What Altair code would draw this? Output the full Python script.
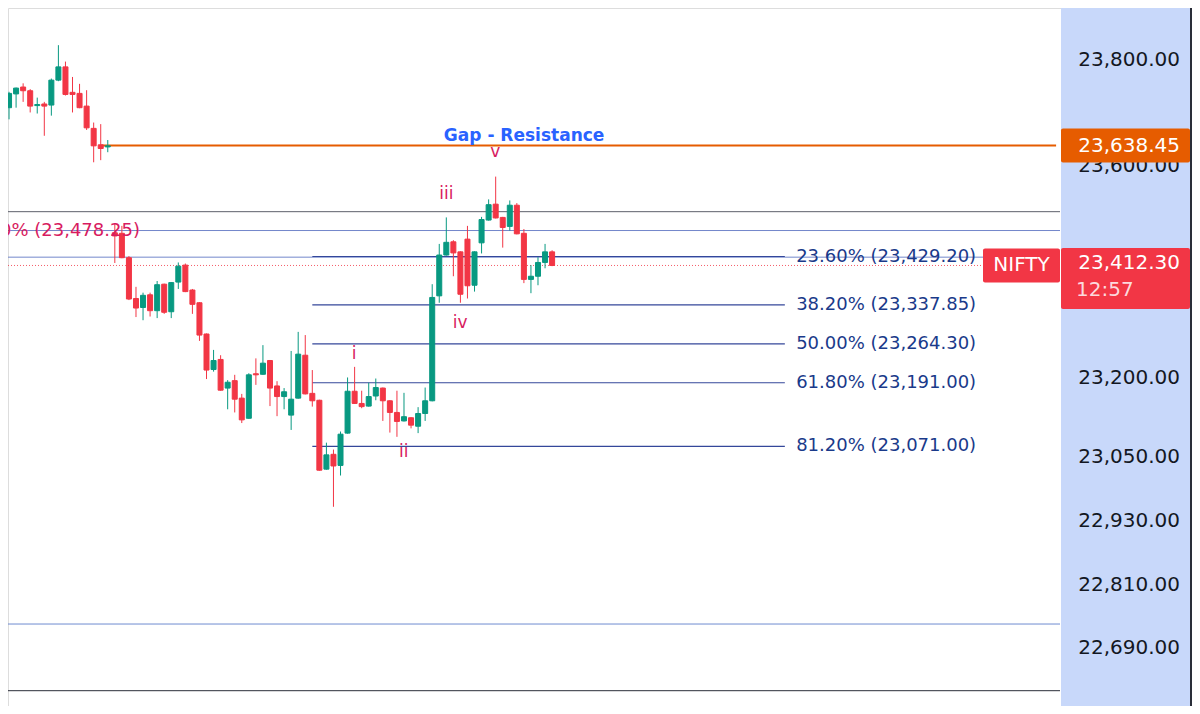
import altair as alt
import pandas as pd

# ---------------- data ----------------
opens = [23710, 23736, 23749, 23742, 23714, 23717, 23715, 23762, 23787, 23739,
         23737, 23713, 23671, 23640, 23636, 23474, 23473, 23427, 23350, 23333,
         23357, 23327, 23377, 23325, 23381, 23413, 23366, 23342, 23283, 23216,
         23235, 23181, 23195, 23162, 23124, 23208, 23207, 23233, 23185, 23165,
         23130, 23162, 23243, 23171, 23158, 23028, 23056, 23035, 23096, 23175,
         23152, 23147, 23166, 23181, 23157, 23135, 23119, 23125, 23109, 23133,
         23157, 23355, 23432, 23457, 23438, 23462, 23375, 23455, 23498, 23528,
         23503, 23486, 23526, 23473, 23386, 23392, 23418, 23438]
highs = [23740, 23748, 23756, 23745, 23729, 23721, 23765, 23828, 23797, 23768,
         23755, 23743, 23682, 23679, 23649, 23492, 23487, 23430, 23372, 23361,
         23361, 23383, 23378, 23381, 23418, 23416, 23368, 23343, 23284, 23253,
         23243, 23196, 23206, 23170, 23209, 23237, 23262, 23234, 23194, 23181,
         23251, 23287, 23281, 23215, 23159, 23078, 23065, 23099, 23201, 23221,
         23176, 23191, 23199, 23182, 23158, 23176, 23172, 23126, 23145, 23182,
         23377, 23453, 23503, 23460, 23439, 23487, 23439, 23504, 23537, 23580,
         23504, 23535, 23530, 23481, 23413, 23428, 23453, 23441]
lows = [23688, 23710, 23721, 23701, 23699, 23657, 23695, 23760, 23733, 23701,
        23709, 23668, 23607, 23611, 23626, 23417, 23426, 23347, 23315, 23309,
        23316, 23313, 23321, 23313, 23368, 23362, 23321, 23270, 23198, 23212,
        23176, 23141, 23135, 23115, 23123, 23187, 23206, 23147, 23128, 23141,
        23102, 23161, 23169, 23146, 23025, 23027, 22957, 23016, 23095, 23151,
        23143, 23146, 23158, 23119, 23097, 23089, 23118, 23105, 23096, 23119,
        23156, 23342, 23431, 23392, 23342, 23350, 23363, 23435, 23497, 23501,
        23446, 23478, 23471, 23379, 23360, 23375, 23407, 23411]
closes = [23737, 23747, 23742, 23713, 23716, 23713, 23762, 23787, 23735, 23735,
          23710, 23672, 23638, 23633, 23638, 23468, 23427, 23349, 23332, 23356,
          23327, 23376, 23324, 23380, 23411, 23363, 23339, 23281, 23215, 23233,
          23177, 23192, 23160, 23121, 23206, 23206, 23228, 23181, 23165, 23174,
          23160, 23245, 23170, 23157, 23026, 23055, 23034, 23094, 23175, 23152,
          23146, 23165, 23182, 23157, 23135, 23118, 23127, 23111, 23133, 23157,
          23352, 23432, 23456, 23436, 23358, 23374, 23438, 23499, 23527, 23502,
          23484, 23526, 23472, 23386, 23392, 23418, 23438, 23412.30]

full_levels = [23513.8, 23478.25, 23428.0, 22735.8, 22610.0]
full_colors = ["#5d606b", "#7387cb", "#7387cb", "#6f8bd0", "#2a2e39"]

fib_pcts = ["23.60%", "38.20%", "50.00%", "61.80%", "81.20%"]
fib_prices = [23429.20, 23337.85, 23264.30, 23191.00, 23071.00]
fib_start, fib_end, fib_label_x = 43.0, 110.0, 111.6

resistance = 23638.45
resistance_start, line_end = 13.07, 148.46
last_price = 23412.30

axis_ticks = [23800, 23600, 23200, 23050, 22930, 22810, 22690, 22565]

wave_labels = ["v", "iii", "iv", "i", "ii"]
wave_x = [68.96, 62.0, 63.97, 48.93, 55.95]
wave_y = [23626.4, 23547.2, 23303.8, 23245.3, 23060.4]

GREEN, RED, ORANGE = "#089981", "#f23645", "#e65c00"
PINK, NAVY = "#d81b60", "#1a3a8a"
FONT = "DejaVu Sans"

# ---------------- frames ----------------
candles = pd.DataFrame({"i": list(range(len(opens))), "open": opens, "high": highs,
                        "low": lows, "close": closes})
candles["dir"] = ["up" if c >= o else "down" for o, c in zip(opens, closes)]

X = alt.Scale(domain=[0.5624, 167.02])
Y = alt.Scale(domain=[22581.13, 23898.11], nice=False, zero=False)
dir_scale = alt.Scale(domain=["up", "down"], range=[GREEN, RED])

W, H = 1184, 698
PLOT_R = 1052

base = alt.Chart(candles)

panel = alt.Chart(pd.DataFrame({"a": [0]})).mark_rect(color="#c8d8fa").encode(
    x=alt.value(1053), x2=alt.value(W), y=alt.value(0), y2=alt.value(H))
border = alt.Chart(pd.DataFrame({"a": [0]})).mark_rule(color="#2a2e39", strokeWidth=2).encode(
    x=alt.value(W - 1), y=alt.value(0), y2=alt.value(H))

full_df = pd.DataFrame({"p": full_levels, "c": full_colors})
full_lines = alt.Chart(full_df).mark_rule(strokeWidth=1).encode(
    x=alt.value(0), x2=alt.value(PLOT_R),
    y=alt.Y("p:Q", scale=Y, axis=None),
    color=alt.Color("c:N", scale=None))

price_line = alt.Chart(pd.DataFrame({"p": [last_price]})).mark_rule(
    color=RED, strokeDash=[1, 2], strokeWidth=1, opacity=0.8).encode(
    x=alt.value(0), x2=alt.value(975), y=alt.Y("p:Q", scale=Y, axis=None))

res_df = pd.DataFrame({"p": [resistance], "x0": [resistance_start], "x1": [line_end]})
res_line = alt.Chart(res_df).mark_rule(color=ORANGE, strokeWidth=2).encode(
    x=alt.X("x0:Q", scale=X, axis=None), x2="x1:Q", y=alt.Y("p:Q", scale=Y, axis=None))

fib_df = pd.DataFrame({"p": fib_prices, "x0": fib_start, "x1": fib_end, "lx": fib_label_x,
                       "label": [f"{a} ({b:,.2f})" for a, b in zip(fib_pcts, fib_prices)]})
fib_lines = alt.Chart(fib_df).mark_rule(color="#34479a", strokeWidth=1.2).encode(
    x=alt.X("x0:Q", scale=X, axis=None), x2="x1:Q", y=alt.Y("p:Q", scale=Y, axis=None))
fib_text = alt.Chart(fib_df).mark_text(font=FONT, fontSize=18, color=NAVY, align="left",
                                       baseline="middle").encode(
    x=alt.X("lx:Q", scale=X, axis=None), y=alt.Y("p:Q", scale=Y, axis=None), text="label:N")

left_df = pd.DataFrame({"x": [18.56], "p": [23478.25], "t": ["0% (23,478.25)"]})
left_text = alt.Chart(left_df).mark_text(font=FONT, fontSize=18, color=PINK, align="right",
                                         baseline="middle").encode(
    x=alt.X("x:Q", scale=X, axis=None), y=alt.Y("p:Q", scale=Y, axis=None), text="t:N")

wicks = base.mark_rule(strokeWidth=1).encode(
    x=alt.X("i:Q", scale=X, axis=None),
    y=alt.Y("low:Q", scale=Y, axis=None), y2="high:Q",
    color=alt.Color("dir:N", scale=dir_scale, legend=None))
bodies = base.mark_bar(size=5, strokeWidth=1).encode(
    x=alt.X("i:Q", scale=X, axis=None),
    y=alt.Y("open:Q", scale=Y, axis=None), y2="close:Q",
    fill=alt.Fill("dir:N", scale=dir_scale, legend=None),
    stroke=alt.Stroke("dir:N", scale=dir_scale, legend=None))

wave_df = pd.DataFrame({"x": wave_x, "p": wave_y, "t": wave_labels})
waves = alt.Chart(wave_df).mark_text(font=FONT, fontSize=17, color=PINK, baseline="middle").encode(
    x=alt.X("x:Q", scale=X, axis=None), y=alt.Y("p:Q", scale=Y, axis=None), text="t:N")

gap_df = pd.DataFrame({"x": [73.03], "p": [23656.6], "t": ["Gap - Resistance"]})
gap_text = alt.Chart(gap_df).mark_text(font=FONT, fontSize=17, fontWeight="bold", color="#2962ff",
                                       baseline="middle").encode(
    x=alt.X("x:Q", scale=X, axis=None), y=alt.Y("p:Q", scale=Y, axis=None), text="t:N")

tick_df = pd.DataFrame({"p": axis_ticks, "t": [f"{v:,.2f}" for v in axis_ticks]})
tick_text = alt.Chart(tick_df).mark_text(font=FONT, fontSize=20, color="#131722", align="right",
                                         baseline="middle").encode(
    x=alt.value(1172), y=alt.Y("p:Q", scale=Y, axis=None), text="t:N")

res_box = alt.Chart(pd.DataFrame({"p": [resistance]})).mark_tick(
    orient="horizontal", size=129, thickness=34, color=ORANGE, opacity=1, cornerRadius=2).encode(
    x=alt.value(1117.5), y=alt.Y("p:Q", scale=Y, axis=None))
res_box_text = alt.Chart(pd.DataFrame({"p": [resistance], "t": [f"{resistance:,.2f}"]})).mark_text(
    font=FONT, fontSize=20, color="white", align="right", baseline="middle").encode(
    x=alt.value(1172), y=alt.Y("p:Q", scale=Y, axis=None), text="t:N")

last_box = alt.Chart(pd.DataFrame({"p": [last_price]})).mark_tick(
    orient="horizontal", size=129, thickness=61, color=RED, opacity=1, yOffset=13, cornerRadius=2).encode(
    x=alt.value(1117.5), y=alt.Y("p:Q", scale=Y, axis=None))
nifty_box = alt.Chart(pd.DataFrame({"p": [last_price]})).mark_tick(
    orient="horizontal", size=77, thickness=34, color=RED, opacity=1, cornerRadius=2).encode(
    x=alt.value(1013.5), y=alt.Y("p:Q", scale=Y, axis=None))
last_text = alt.Chart(pd.DataFrame({"p": [last_price], "t": [f"{last_price:,.2f}"]})).mark_text(
    font=FONT, fontSize=20, color="white", align="right", baseline="middle", yOffset=-2).encode(
    x=alt.value(1172), y=alt.Y("p:Q", scale=Y, axis=None), text="t:N")
timer_text = alt.Chart(pd.DataFrame({"p": [last_price], "t": ["12:57"]})).mark_text(
    font=FONT, fontSize=20, color="#fcd9dd", align="left", baseline="middle", yOffset=25).encode(
    x=alt.value(1068), y=alt.Y("p:Q", scale=Y, axis=None), text="t:N")
nifty_text = alt.Chart(pd.DataFrame({"p": [last_price], "t": ["NIFTY"]})).mark_text(
    font=FONT, fontSize=20, color="white", align="center", baseline="middle").encode(
    x=alt.value(1013.5), y=alt.Y("p:Q", scale=Y, axis=None), text="t:N")

chart = alt.layer(
    panel, full_lines, price_line, res_line, fib_lines, wicks, bodies,
    fib_text, left_text, waves, gap_text, tick_text,
    res_box, res_box_text, last_box, nifty_box, last_text, timer_text, nifty_text, border
).properties(
    width=W, height=H, padding=0, autosize=alt.AutoSizeParams(type="none")
).configure_view(strokeWidth=0, stroke="transparent").configure(background="white")

chart.save("out.html", embed_options={"renderer": "svg", "actions": False})
